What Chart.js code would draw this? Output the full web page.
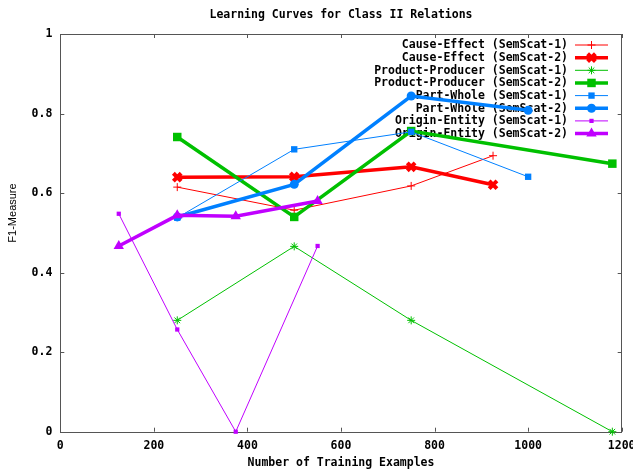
<!DOCTYPE html>
<html>
<head>
<meta charset="utf-8">
<title>Learning Curves for Class II Relations</title>
<script src="https://cdn.jsdelivr.net/npm/chart.js@4/dist/chart.umd.min.js"></script>
<style>
html, body { margin: 0; padding: 0; background: #fff; overflow: hidden; }
#wrap { width: 633px; height: 472px; overflow: hidden; }
canvas { display: block; }
</style>
</head>
<body>
<div id="wrap"><canvas id="chart" width="645" height="472"></canvas></div>
<script>
// values
const xCauseEffect = [250, 500, 750, 925];
const ceSem1 = [0.615, 0.557, 0.618, 0.694];
const ceSem2 = [0.640, 0.641, 0.666, 0.621];

const xProductProducer = [250, 500, 750, 1180];
const ppSem1 = [0.280, 0.466, 0.280, 0.0];
const ppSem2 = [0.741, 0.540, 0.756, 0.674];

const xPartWhole = [250, 500, 750, 1000];
const pwSem1 = [0.538, 0.710, 0.754, 0.641];
const pwSem2 = [0.540, 0.622, 0.844, 0.808];

const xOriginEntity = [125, 250, 375, 550];
const oeSem1 = [0.548, 0.257, 0.0, 0.467];
const oeSem2 = [0.467, 0.544, 0.542, 0.580];

const xTicks = [0, 200, 400, 600, 800, 1000, 1200];
const yTicks = [0, 0.2, 0.4, 0.6, 0.8, 1];

const titleText = 'Learning Curves for Class II Relations';
const xTitle = 'Number of Training Examples';
const yTitle = 'F1-Measure';

const MONO = 'bold 11.5px "DejaVu Sans Mono", monospace';
const RED = '#ff0000', GREEN = '#00c000', BLUE = '#0080ff', PURPLE = '#c000ff';

const pts = (xs, ys) => xs.map((x, i) => ({ x: x, y: ys[i] }));

function series(label, xs, ys, color, thick, style, radius) {
    return {
        label: label,
        data: pts(xs, ys),
        borderColor: color,
        backgroundColor: color,
        borderWidth: thick ? 3.5 : 1,
        pointStyle: style,
        pointRadius: radius,
        pointBorderWidth: (style === 'cross' || style === 'crossRot' || style === 'star') ? (thick ? 4 : 1) : 0,
        pointBackgroundColor: color,
        pointBorderColor: color,
        tension: 0,
        fill: false,
        clip: false
    };
}

const datasets = [
    series('Cause-Effect (SemScat-1)', xCauseEffect, ceSem1, RED, false, 'cross', 4),
    series('Cause-Effect (SemScat-2)', xCauseEffect, ceSem2, RED, true, 'crossRot', 5.5),
    series('Product-Producer (SemScat-1)', xProductProducer, ppSem1, GREEN, false, 'star', 4),
    series('Product-Producer (SemScat-2)', xProductProducer, ppSem2, GREEN, true, 'rect', 6),
    series('Part-Whole (SemScat-1)', xPartWhole, pwSem1, BLUE, false, 'rect', 4.5),
    series('Part-Whole (SemScat-2)', xPartWhole, pwSem2, BLUE, true, 'circle', 4.5),
    series('Origin-Entity (SemScat-1)', xOriginEntity, oeSem1, PURPLE, false, 'rect', 3),
    series('Origin-Entity (SemScat-2)', xOriginEntity, oeSem2, PURPLE, true, 'triangle', 6)
];
// later series on top, like gnuplot
datasets.forEach((d, i) => { d.order = datasets.length - i; });

function marker(ctx, d, x, y) {
    ctx.fillStyle = d.pointBackgroundColor;
    ctx.strokeStyle = d.pointBorderColor;
    ctx.lineWidth = d.pointBorderWidth;
    if (Chart.helpers && Chart.helpers.drawPoint) {
        Chart.helpers.drawPoint(ctx, { pointStyle: d.pointStyle, radius: d.pointRadius, borderWidth: d.pointBorderWidth, rotation: 0 }, x, y);
    } else {
        ctx.beginPath();
        ctx.arc(x, y, d.pointRadius, 0, Math.PI * 2);
        ctx.fill();
    }
}

const gnuplotFrame = {
    id: 'gnuplotFrame',
    beforeDatasetsDraw(chart) {
        const { ctx, chartArea: a, scales } = chart;
        const xs = scales.x, ys = scales.y;
        ctx.save();
        ctx.strokeStyle = '#555';
        ctx.lineWidth = 1;
        ctx.strokeRect(Math.round(a.left) + 0.5, Math.round(a.top) + 0.5, Math.round(a.right - a.left), Math.round(a.bottom - a.top));
        ctx.beginPath();
        xTicks.forEach(v => {
            const px = Math.round(xs.getPixelForValue(v)) + 0.5;
            ctx.moveTo(px, a.bottom); ctx.lineTo(px, a.bottom - 4);
            ctx.moveTo(px, a.top); ctx.lineTo(px, a.top + 4);
        });
        yTicks.forEach(v => {
            const py = Math.round(ys.getPixelForValue(v)) + 0.5;
            ctx.moveTo(a.left, py); ctx.lineTo(a.left + 4, py);
            ctx.moveTo(a.right, py); ctx.lineTo(a.right - 4, py);
        });
        ctx.stroke();

        // key
        ctx.font = MONO;
        ctx.textAlign = 'right';
        ctx.textBaseline = 'middle';
        chart.data.datasets.forEach((d, i) => {
            const y = 45 + i * 12.65;
            ctx.fillStyle = '#000';
            ctx.fillText(d.label, 568, y + 0.5);
            ctx.strokeStyle = d.borderColor;
            ctx.lineWidth = d.borderWidth;
            ctx.beginPath();
            ctx.moveTo(575, y); ctx.lineTo(608, y);
            ctx.stroke();
            marker(ctx, d, 591.5, y);
        });
        ctx.restore();
    },
    afterDraw(chart) {
        const { ctx, chartArea: a } = chart;
        const cx = (a.left + a.right) / 2;
        ctx.save();
        ctx.fillStyle = '#000';
        ctx.font = MONO;
        ctx.textAlign = 'center';
        ctx.textBaseline = 'middle';
        ctx.fillText(titleText, cx, 15);
        ctx.fillText(xTitle, cx, 463);
        ctx.translate(13, 213);
        ctx.rotate(-Math.PI / 2);
        ctx.font = '11px "Liberation Sans", Arial, sans-serif';
        ctx.fillText(yTitle, 0, 0);
        ctx.restore();
    }
};

const tickFont = { family: '"DejaVu Sans Mono", monospace', size: 11.5, weight: 'bold' };

const chart = new Chart(document.getElementById('chart'), {
    type: 'line',
    data: { datasets: datasets },
    options: {
        responsive: false,
        animation: false,
        events: [],
        layout: { padding: { top: 34, right: 23.3, left: 0, bottom: 0 } },
        plugins: { legend: { display: false }, title: { display: false }, tooltip: { enabled: false } },
        scales: {
            x: {
                type: 'linear',
                min: 0,
                max: 1200,
                afterBuildTicks: s => { s.ticks = xTicks.map(v => ({ value: v })); },
                afterFit: s => { s.height = 40.3; },
                grid: { display: false, drawTicks: false },
                border: { display: false },
                ticks: { font: tickFont, color: '#000', padding: 7, maxRotation: 0, autoSkip: false,
                    callback: v => String(v) }
            },
            y: {
                type: 'linear',
                min: 0,
                max: 1,
                afterBuildTicks: s => { s.ticks = yTicks.map(v => ({ value: v })); },
                afterFit: s => { s.width = 60.3; },
                grid: { display: false, drawTicks: false },
                border: { display: false },
                ticks: { font: tickFont, color: '#000', padding: 8,
                    callback: v => String(v) }
            }
        }
    },
    plugins: [gnuplotFrame]
});
</script>
</body>
</html>
